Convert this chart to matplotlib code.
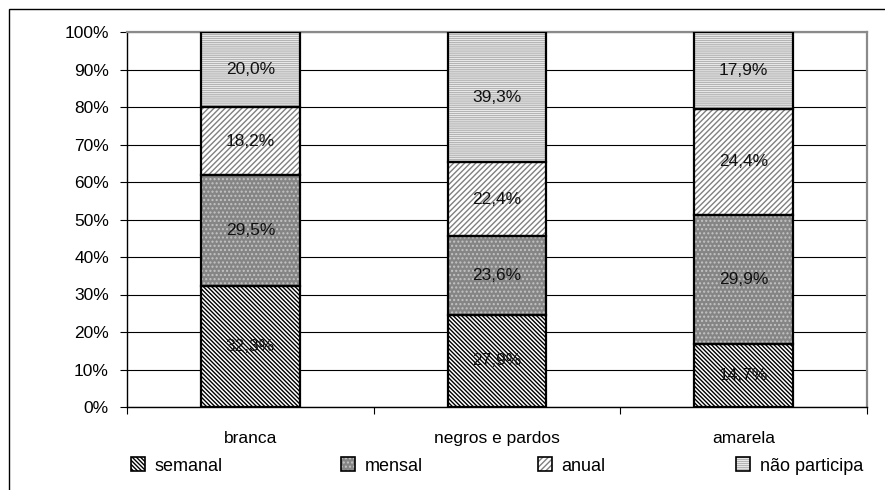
import matplotlib
matplotlib.use("Agg")
import matplotlib.pyplot as plt
from matplotlib.patches import Patch, Rectangle
from matplotlib.legend_handler import HandlerTuple
from matplotlib.ticker import FixedLocator, PercentFormatter

plt.rcParams["font.family"] = ["Liberation Sans", "DejaVu Sans"]
plt.rcParams["hatch.linewidth"] = 1.0

categories = ["branca", "negros e pardos", "amarela"]
series = ["semanal", "mensal", "anual", "não participa"]
semanal = [32.3, 27.9, 14.7]
mensal = [29.5, 23.6, 29.9]
anual = [18.2, 22.4, 24.4]
nao_participa = [20.0, 39.3, 17.9]

# face colour, hatch, hatch colour for each series
styles = [
    ("white", "\\" * 8, "black"),
    ("#858585", "....", "#c4c4c4"),
    ("white", "/" * 6, "#808080"),
    ("white", "-" * 8, "#b4b4b4"),
]

values = [semanal, mensal, anual, nao_participa]
totals = [sum(col) for col in zip(*values)]

fig = plt.figure(figsize=(8.85, 4.9), dpi=100)
ax = fig.add_axes([127 / 885, 1 - 407 / 490, 740 / 885, 375 / 490])

x = list(range(len(categories)))
width = 0.4
bottom = [0.0] * len(categories)
for vals, (fc, hatch, hc) in zip(values, styles):
    heights = [v / t * 100 for v, t in zip(vals, totals)]
    # hatch pass (hatch takes the edge colour), then a plain black outline
    ax.bar(x, heights, width, bottom=bottom, color=fc, hatch=hatch,
           edgecolor=hc, linewidth=0, zorder=2)
    ax.bar(x, heights, width, bottom=bottom, fill=False,
           edgecolor="black", linewidth=1.6, zorder=3)
    for xi, b, h, v in zip(x, bottom, heights, vals):
        ax.text(xi, b + h / 2, f"{v:.1f}%".replace(".", ","),
                ha="center", va="center", fontsize=12.5, color="#111111", zorder=4)
    bottom = [b + h for b, h in zip(bottom, heights)]

ax.set_xlim(-0.5, len(categories) - 0.5)
ax.set_ylim(0, 100)
ax.yaxis.set_major_locator(FixedLocator(range(0, 101, 10)))
ax.yaxis.set_major_formatter(PercentFormatter(decimals=0))
ax.yaxis.grid(True, color="black", linewidth=0.8, zorder=0)
ax.set_axisbelow(True)

ax.set_xticks([i - 0.5 for i in range(len(categories) + 1)])
ax.set_xticklabels([])
ax.set_xticks(x, minor=True)
ax.set_xticklabels(categories, minor=True, fontsize=12.5)
ax.tick_params(axis="x", which="major", length=5, width=0.8, direction="out")
ax.tick_params(axis="x", which="minor", length=0, pad=17)
ax.tick_params(axis="y", length=5, width=0.8, labelsize=12.5, pad=8)

for side in ["left", "bottom"]:
    ax.spines[side].set_color("black")
    ax.spines[side].set_linewidth(1.0)
for side in ["top", "right"]:
    ax.spines[side].set_color("#8a8a8a")
    ax.spines[side].set_linewidth(1.6)

# one legend entry per column position along the bottom
legend_x = [122, 332, 529, 727]
for name, (fc, hatch, hc), lx in zip(series, styles, legend_x):
    swatch = Patch(facecolor=fc, hatch=hatch, edgecolor=hc, linewidth=0)
    outline = Patch(fill=False, edgecolor="black", linewidth=1.2)
    fig.legend([(swatch, outline)], [name], loc="center left",
               handler_map={tuple: HandlerTuple(ndivide=1, pad=0)},
               bbox_to_anchor=(lx / 885, 1 - 466 / 490), frameon=False,
               handlelength=0.8, handleheight=0.8, handletextpad=0.5,
               borderpad=0, fontsize=13)

fig.add_artist(Rectangle((9 / 885, -0.1), 1.2, (490 - 9) / 490 + 0.1,
                         transform=fig.transFigure, fill=False,
                         edgecolor="black", linewidth=1.0))

fig.savefig("out.png", dpi=100)
